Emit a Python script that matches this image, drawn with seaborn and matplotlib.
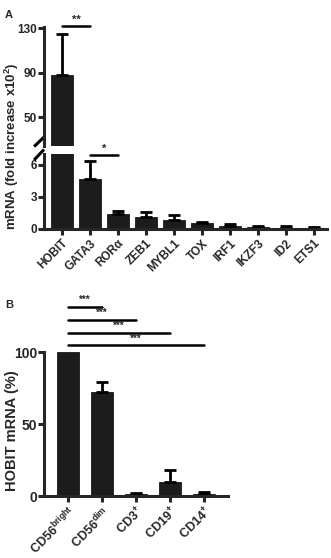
import numpy as np
import pandas as pd
import seaborn as sns
import matplotlib.pyplot as plt

# --- data ---
genes = ['HOBIT', 'GATA3', 'RORα', 'ZEB1', 'MYBL1', 'TOX', 'IRF1', 'IKZF3', 'ID2', 'ETS1']
gene_mean = [88, 4.7, 1.4, 1.1, 0.85, 0.52, 0.28, 0.2, 0.13, 0.08]
gene_err_top = [125, 6.3, 1.7, 1.6, 1.35, 0.68, 0.42, 0.32, 0.28, 0.2]

cells = ['CD56$^{bright}$', 'CD56$^{dim}$', 'CD3$^{+}$', 'CD19$^{+}$', 'CD14$^{+}$']
cell_mean = [100, 72, 1.5, 10, 1.5]
cell_err_top = [100, 79, 2.2, 17.8, 3.0]

sns.set_style("ticks")
plt.rcParams['font.family'] = ['Liberation Sans', 'DejaVu Sans']
plt.rcParams['font.weight'] = 'bold'
plt.rcParams['axes.labelweight'] = 'bold'
plt.rcParams['mathtext.default'] = 'regular'

BAR = '#1c1c1c'
LW = 2.2

fig = plt.figure(figsize=(3.31, 5.58), dpi=100)
W, H = 331, 558


def box(x0, y0, x1, y1):
    return [x0 / W, 1 - y1 / H, (x1 - x0) / W, (y1 - y0) / H]


ax_up = fig.add_axes(box(44, 27, 327, 146))
ax_lo = fig.add_axes(box(44, 154, 327, 229))
ax_b = fig.add_axes(box(44, 352, 228, 496))

df_a = pd.DataFrame({'gene': genes, 'mean': gene_mean, 'top': gene_err_top})
df_b = pd.DataFrame({'cell': cells, 'mean': cell_mean, 'top': cell_err_top})

for ax in (ax_up, ax_lo):
    sns.barplot(data=df_a, x='gene', y='mean', order=genes, color=BAR,
                saturation=1, width=0.78, errorbar=None, ax=ax,
                edgecolor='black', linewidth=0.5)
    xs = np.arange(len(genes))
    err = np.array(gene_err_top) - np.array(gene_mean)
    ax.errorbar(xs, gene_mean, yerr=[np.zeros(len(xs)), err], fmt='none',
                ecolor='black', elinewidth=2, capsize=4.5, capthick=2)
    ax.set_xlim(-0.64, 9.46)
    ax.set_xlabel('')
    ax.set_ylabel('')
    for s in ax.spines.values():
        s.set_linewidth(LW)
    ax.spines['right'].set_visible(False)
    ax.tick_params(axis='y', width=LW, length=4, labelsize=8.5, pad=1)

ax_up.set_ylim(24, 131)
ax_up.set_yticks([50, 90, 130])
ax_up.spines['bottom'].set_visible(False)
ax_up.spines['top'].set_visible(False)
ax_up.set_xticks([])

ax_lo.set_ylim(0, 7)
ax_lo.set_yticks([0, 3, 6])
ax_lo.spines['top'].set_visible(False)
ax_lo.tick_params(axis='x', width=LW, length=4, labelsize=8.5, pad=2)
ax_lo.set_xticks(range(len(genes)))
ax_lo.set_xticklabels(genes, rotation=45, ha='right', rotation_mode='anchor',
                      fontweight='bold')

# axis break marks
kw = dict(color='black', lw=LW, clip_on=False, solid_capstyle='butt')
ax_up.plot([-0.035, 0.0], [-0.005, 0.075], transform=ax_up.transAxes, **kw)
ax_lo.plot([-0.035, 0.0], [0.92, 1.06], transform=ax_lo.transAxes, **kw)

# significance
ax_up.plot([0, 1], [131.5, 131.5], color='black', lw=1.8, clip_on=False)
ax_up.text(0.5, 133, '**', ha='center', va='bottom', fontsize=8)
ax_lo.plot([1, 2], [6.9, 6.9], color='black', lw=1.8, clip_on=False)
ax_lo.text(1.5, 7.05, '*', ha='center', va='bottom', fontsize=8)

fig.text(12 / W, 1 - 146 / H, 'mRNA (fold increase x10$^{2}$)', rotation=90,
         ha='center', va='center', fontsize=9.5, fontweight='bold')
fig.text(5 / W, 1 - 15 / H, 'A', fontsize=8, fontweight='bold', va='center')

# --- panel B ---
sns.barplot(data=df_b, x='cell', y='mean', order=cells, color=BAR,
            saturation=1, width=0.65, errorbar=None, ax=ax_b,
            edgecolor='black', linewidth=0.5)
xb = np.arange(len(cells))
errb = np.array(cell_err_top) - np.array(cell_mean)
ax_b.errorbar(xb[1:], cell_mean[1:], yerr=[np.zeros(len(xb) - 1), errb[1:]],
              fmt='none', ecolor='black', elinewidth=2, capsize=4.5, capthick=2)
ax_b.set_xlim(-0.7, 4.7)
ax_b.set_ylim(0, 100)
ax_b.set_yticks([0, 50, 100])
ax_b.set_xlabel('')
ax_b.set_ylabel('')
for s in ax_b.spines.values():
    s.set_linewidth(LW)
ax_b.spines['right'].set_visible(False)
ax_b.spines['top'].set_visible(False)
ax_b.tick_params(axis='y', width=LW, length=4, labelsize=10, pad=1)
ax_b.tick_params(axis='x', width=LW, length=4, labelsize=9, pad=2)
ax_b.set_xticks(range(len(cells)))
ax_b.set_xticklabels(cells, rotation=45, ha='right', rotation_mode='anchor',
                     fontweight='bold')

for i, y in enumerate([131.5, 122.5, 113.5, 104.8]):
    ax_b.plot([0, i + 1], [y, y], color='black', lw=1.8, clip_on=False)
    ax_b.text((i + 1) / 2, y + 1.2, '***', ha='center', va='bottom', fontsize=7)

fig.text(12 / W, 1 - 431 / H, 'HOBIT mRNA (%)', rotation=90,
         ha='center', va='center', fontsize=10.5, fontweight='bold')
fig.text(5 / W, 1 - 305 / H, 'B', fontsize=8, fontweight='bold', va='center')

fig.savefig('out.png', dpi=100)
